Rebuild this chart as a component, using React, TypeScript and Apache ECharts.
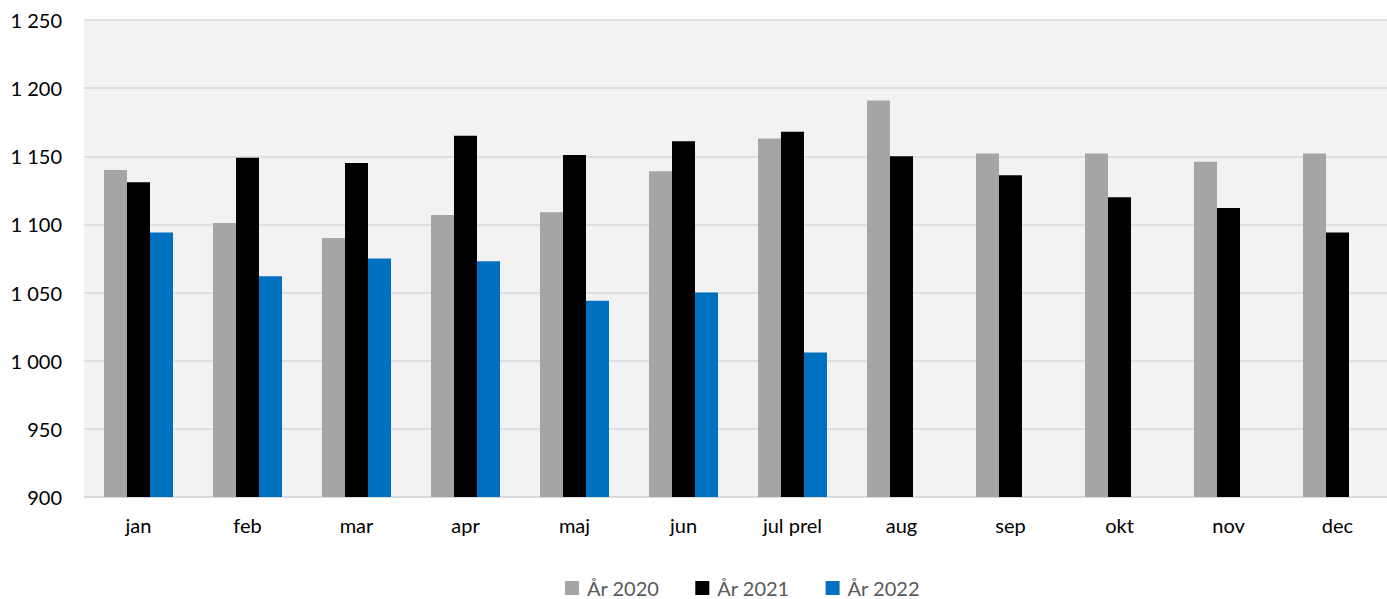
import React, { useEffect, useRef } from "react";
import * as echarts from "echarts";

const categories = ["jan", "feb", "mar", "apr", "maj", "jun", "jul prel", "aug", "sep", "okt", "nov", "dec"];
const seriesNames = ["År 2020", "År 2021", "År 2022"];
const values2020 = [1140, 1101, 1090, 1107, 1109, 1139, 1163, 1191, 1152, 1152, 1146, 1152];
const values2021 = [1131, 1149, 1145, 1165, 1151, 1161, 1168, 1150, 1136, 1120, 1112, 1094];
const values2022 = [1094, 1062, 1075, 1073, 1044, 1050, 1006, null, null, null, null, null];
const colors = ["#a5a5a5", "#000000", "#0070c0"];
const yMin = 900;
const yMax = 1250;
const yInterval = 50;

const fontFamily = "Lato, 'Noto Sans', sans-serif";

export default function App() {
  const ref = useRef<HTMLDivElement>(null);
  useEffect(() => {
    if (!ref.current) return;
    const chart = echarts.init(ref.current, undefined, { renderer: "svg" });
    const data = [values2020, values2021, values2022];
    chart.setOption({
      animation: false,
      textStyle: { fontFamily },
      grid: {
        left: 84,
        right: 8,
        top: 20,
        bottom: 102,
        show: true,
        backgroundColor: "#f2f2f2",
        borderWidth: 0,
      },
      legend: {
        data: seriesNames,
        left: 565,
        top: 578,
        padding: 0,
        itemWidth: 14,
        itemHeight: 14,
        itemGap: 36,
        icon: "rect",
        textStyle: { fontFamily, fontSize: 20, lineHeight: 20, color: "#595959", padding: [0, 0, 0, 3] },
      },
      xAxis: {
        type: "category",
        data: categories,
        axisLine: { show: true, lineStyle: { color: "#d9d9d9", width: 1.5 } },
        axisTick: { show: false },
        axisLabel: { fontFamily, fontSize: 20, color: "#000", margin: 18 },
      },
      yAxis: {
        type: "value",
        min: yMin,
        max: yMax,
        interval: yInterval,
        axisLine: { show: false },
        axisTick: { show: false },
        splitLine: { show: true, lineStyle: { color: "#d9d9d9", width: 1.5 } },
        axisLabel: {
          fontFamily,
          fontSize: 20,
          color: "#000",
          margin: 22,
          formatter: (v: number) => String(v).replace(/\B(?=(\d{3})+(?!\d))/g, " "),
        },
      },
      series: seriesNames.map((name, i) => ({
        name,
        type: "bar",
        data: data[i],
        barGap: "0%",
        barCategoryGap: "36.7%",
        itemStyle: { color: colors[i] },
      })),
    });
    return () => chart.dispose();
  }, []);
  return (
    <div
      ref={ref}
      style={{ position: "fixed", left: 0, top: 0, width: 1400, height: 599, background: "#fff" }}
    />
  );
}
